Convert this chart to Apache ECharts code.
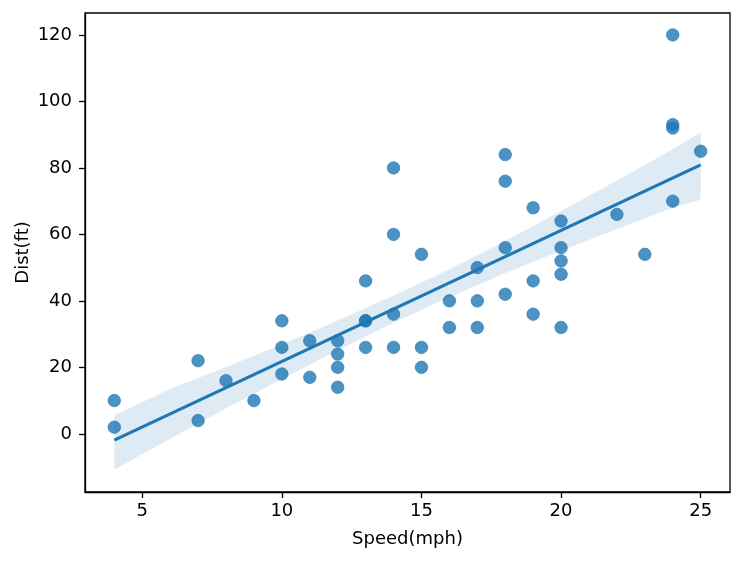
<!DOCTYPE html>
<html>
<head>
<meta charset="utf-8">
<script src="https://cdn.jsdelivr.net/npm/echarts@6/dist/echarts.min.js"></script>
<style>html,body{margin:0;padding:0;background:#fff}#c{width:743px;height:562px}</style>
</head>
<body>
<div id="c"></div>
<script>
// Observations (speed in mph, stopping distance in ft)
var speed = [4,4,7,7,8,9,10,10,10,11,11,12,12,12,12,13,13,13,13,14,14,14,14,15,15,15,16,16,17,17,17,18,18,18,18,19,19,19,20,20,20,20,20,22,23,24,24,24,24,25];
var dist  = [2,10,4,22,16,10,18,26,34,17,28,14,20,24,28,26,34,34,46,26,36,60,80,20,26,54,32,40,32,40,50,42,56,76,84,36,46,68,32,48,52,56,64,66,54,70,92,93,120,85];

// Fitted line endpoints
var fitX = [4, 25];
var fitY = [-1.9, 80.9];

// Confidence band
var bandX     = [4, 6, 8, 10, 12, 14, 15, 16, 18, 20, 22, 24, 25];
var bandUpper = [5.6, 13.5, 20.1, 26.9, 34.1, 41.6, 45.5, 49.5, 58.0, 67.0, 76.2, 85.6, 90.7];
var bandLower = [-10.8, -1.5, 7.7, 16.5, 25.1, 33.4, 37.3, 41.1, 48.4, 55.1, 61.6, 68.0, 70.4];

// Tick labels
var xTicks = [5, 10, 15, 20, 25];
var yTicks = [0, 20, 40, 60, 80, 100, 120];

var FONT = 'DejaVu Sans';
var FS = 18;
var blue = '#1f77b4';

var chart = echarts.init(document.getElementById('c'), null, {renderer: 'canvas'});

var points = speed.map(function (s, i) { return [s, dist[i]]; });
var fitData = fitX.map(function (x, i) { return [x, fitY[i]]; });

var option = {
  animation: false,
  backgroundColor: '#fff',
  grid: {left: 85, right: 13, top: 13, bottom: 70, show: true, borderColor: '#000', borderWidth: 1.3, backgroundColor: 'transparent'},
  xAxis: {
    type: 'value', min: 2.95, max: 26.05,
    name: 'Speed(mph)', nameLocation: 'middle', nameGap: 38,
    nameTextStyle: {fontFamily: FONT, fontSize: FS, color: '#000'},
    axisLine: {show: true, onZero: false, lineStyle: {color: '#000', width: 1.3}},
    axisTick: {show: true, inside: false, length: 6, customValues: xTicks, lineStyle: {color: '#000', width: 1.3}},
    axisLabel: {customValues: xTicks, margin: 10, fontFamily: FONT, fontSize: FS, color: '#000'},
    splitLine: {show: false}
  },
  yAxis: {
    type: 'value', min: -17.5, max: 126.6,
    name: 'Dist(ft)', nameLocation: 'middle', nameGap: 53, nameMoveOverlap: false,
    nameTextStyle: {fontFamily: FONT, fontSize: FS, color: '#000'},
    axisLine: {show: true, onZero: false, lineStyle: {color: '#000', width: 1.3}},
    axisTick: {show: true, inside: false, length: 6, customValues: yTicks, lineStyle: {color: '#000', width: 1.3}},
    axisLabel: {customValues: yTicks, margin: 13, fontFamily: FONT, fontSize: FS, color: '#000'},
    splitLine: {show: false}
  },
  series: [
    {
      type: 'custom',
      coordinateSystem: 'cartesian2d',
      data: [[bandX[0], bandLower[0]]],
      encode: {x: 0, y: 1},
      z: 1,
      silent: true,
      renderItem: function (params, api) {
        var pts = [];
        for (var i = 0; i < bandX.length; i++) pts.push(api.coord([bandX[i], bandUpper[i]]));
        for (var j = bandX.length - 1; j >= 0; j--) pts.push(api.coord([bandX[j], bandLower[j]]));
        return {type: 'polygon', shape: {points: pts}, style: {fill: 'rgba(31,119,180,0.15)', stroke: null}};
      }
    },
    {
      type: 'scatter',
      data: points,
      symbol: 'circle',
      symbolSize: 12.5,
      z: 2,
      itemStyle: {color: blue, opacity: 0.8, borderColor: blue, borderWidth: 0.8}
    },
    {
      type: 'line',
      data: fitData,
      showSymbol: false,
      z: 3,
      lineStyle: {color: blue, width: 3.2}
    }
  ]
};
chart.setOption(option);
</script>
</body>
</html>
